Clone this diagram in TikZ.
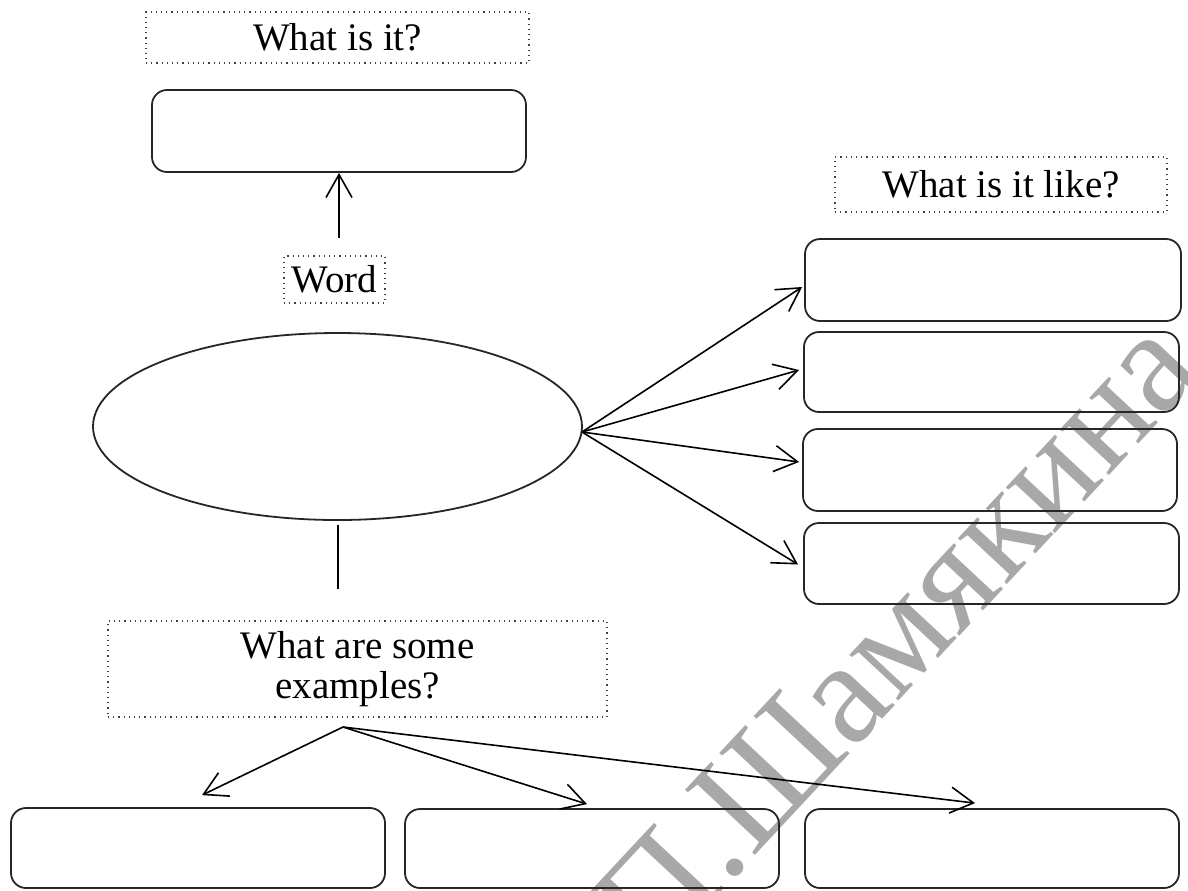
\documentclass[tikz,border=0pt]{standalone}
\usepackage{fontspec}
\setmainfont{Liberation Serif}
\usetikzlibrary{arrows.meta,shapes.geometric,calc}
\definecolor{wm}{RGB}{168,168,168}
\begin{document}
\begin{tikzpicture}[x=0.5pt,y=-0.5pt,
  rbox/.style={draw=black!85,line width=0.9pt,rounded corners=7.5pt,minimum width=187pt,minimum height=41pt,inner sep=0pt},
  qbox/.style={draw=black!75,dotted,line width=0.6pt,inner sep=0pt,align=center,font=\fontsize{19.5}{20}\selectfont},
  arr/.style={line width=0.8pt,-{Straight Barb[length=11.5pt,width=13pt,line width=0.8pt]}},
  link/.style={line width=0.8pt}]
\useasboundingbox (0,0) rectangle (1188,890);
% watermark
\node[font=\fontsize{73}{73}\selectfont,text=wm,rotate=47,anchor=base,inner sep=0pt] (wmk) at (930,668) {П.Шамякина};
% top
\node[qbox,minimum width=191.5pt,minimum height=25.5pt] (qit) at (337.5,37.5) {What is it?};
\node[rbox] (b1) at (339,131) {};
\node[qbox,minimum width=50.5pt,minimum height=23.5pt] (word) at (334.5,279.5) {Word};
\coordinate (a1) at (339,238);
\draw[arr] (a1) -- (b1.south);
% ellipse
\node[ellipse,draw=black!85,line width=0.9pt,minimum width=244.5pt,minimum height=93.5pt,inner sep=0pt] (ell) at (337.5,426.5) {};
\coordinate (l1) at (338,525);
\coordinate (l2) at (338,589);
\draw[link] (l1) -- (l2);
% right side
\node[qbox,minimum width=166pt,minimum height=27.5pt] (qlike) at (1001,184.5) {What is it like?};
\node[rbox,minimum width=188pt] (rA) at (993,280) {};
\node[rbox,minimum width=187.5pt,minimum height=40pt] (rB) at (991.5,372) {};
\node[rbox] (rC) at (990,470) {};
\node[rbox,minimum width=187.5pt,minimum height=40.5pt] (rD) at (991.5,563.5) {};
\coordinate (e0) at (582,432);
\draw[arr] (e0) -- ($(rA.west)+(-2,7)$);
\draw[arr] (e0) -- ($(rB.west)+(-4,-2)$);
\draw[arr] (e0) -- ($(rC.west)+(-3,-8)$);
\draw[arr] (e0) -- ($(rD.west)+(-5,1)$);
% bottom
\node[qbox,minimum width=249.5pt,minimum height=48pt] (qex) at (357.5,669) {What are some\\examples?};
\node[rbox,minimum height=40pt] (bL) at (198,848) {};
\node[rbox,minimum height=39.5pt] (bM) at (592,848.5) {};
\node[rbox,minimum height=39.5pt] (bR) at (992,848.5) {};
\coordinate (s0) at (343,727);
\draw[arr] (s0) -- ($(bL.north)+(4,-12)$);
\draw[arr] (s0) -- ($(bM.north)+(-5,-4)$);
\draw[arr] (s0) -- ($(bR.north)+(-17,-5)$);
\end{tikzpicture}
\end{document}
